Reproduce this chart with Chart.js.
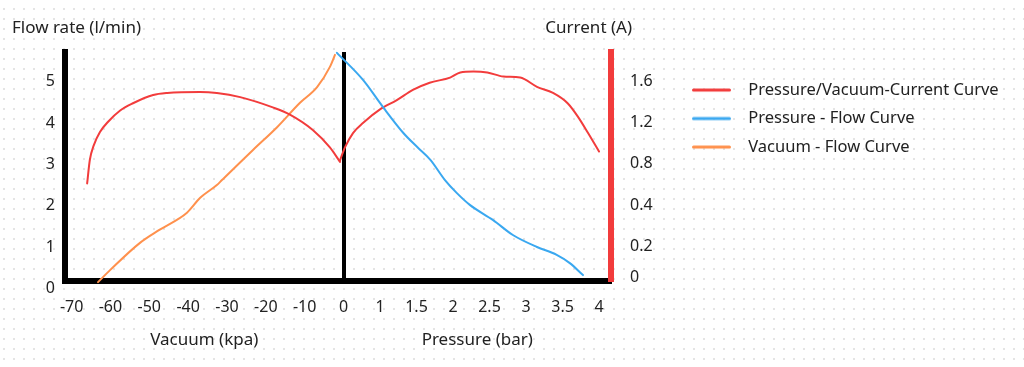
<!DOCTYPE html>
<html>
<head>
<meta charset="utf-8">
<script src="https://cdn.jsdelivr.net/npm/chart.js@4.4.0/dist/chart.umd.min.js"></script>
<style>
html,body{margin:0;padding:0;background:#fff;}
canvas{display:block;}
</style>
</head>
<body>
<canvas id="c" width="1024" height="367"></canvas>
<script>
// ---- tick labels ----
const VAC_TICKS = [-70, -60, -50, -40, -30, -20, -10, 0];
const PRES_TICKS = [1, 1.5, 2, 2.5, 3, 3.5, 4];
const FLOW_TICKS = [0, 1, 2, 3, 4, 5];
const CURRENT_TICK_VALUES = [-0.31, 0, 0.4, 0.8, 1.2, 1.6];
const CURRENT_TICK_LABELS = ['0', '0.2', '0.4', '0.8', '1.2', '1.6'];
const SERIES_LABELS = ['Pressure/Vacuum-Current Curve', 'Pressure - Flow Curve', 'Vacuum - Flow Curve'];

// ---- series: current vs vacuum (kPa -> A) ----
const VAC_CURRENT_X = [-66.0, -65.3, -64.3, -62.7, -60.6, -57.5, -54.2, -49.0, -45.4, -36.9, -32.6, -26.6, -18.2, -13.8, -7.9, -3.5, -0.9];
const VAC_CURRENT_Y = [0.61, 0.84, 0.98, 1.11, 1.21, 1.32, 1.39, 1.47, 1.49, 1.50, 1.49, 1.45, 1.35, 1.28, 1.13, 0.96, 0.82];

// ---- series: current vs pressure (bar -> A) ----
const PRES_CURRENT_X = [0.45, 0.52, 0.63, 0.77, 1.00, 1.23, 1.45, 1.68, 1.96, 2.10, 2.28, 2.47, 2.69, 2.92, 3.15, 3.37, 3.57, 3.71, 3.85, 4.00];
const PRES_CURRENT_Y = [0.83, 0.96, 1.10, 1.20, 1.33, 1.42, 1.52, 1.59, 1.64, 1.69, 1.70, 1.69, 1.65, 1.64, 1.55, 1.49, 1.39, 1.26, 1.10, 0.92];

// ---- series: flow vs pressure (bar -> l/min) ----
const PRES_FLOW_X = [0.41, 0.77, 1.04, 1.32, 1.51, 1.69, 1.89, 2.05, 2.23, 2.55, 2.82, 3.15, 3.42, 3.60, 3.78];
const PRES_FLOW_Y = [5.70, 5.04, 4.39, 3.76, 3.42, 3.11, 2.62, 2.31, 2.02, 1.65, 1.29, 1.00, 0.81, 0.61, 0.32];

// ---- series: flow vs vacuum (kPa -> l/min) ----
const VAC_FLOW_X = [-63.2, -60.1, -52.4, -47.3, -40.3, -36.9, -32.6, -31.3, -23.3, -17.1, -11.2, -6.8, -3.5, -2.2];
const VAC_FLOW_Y = [0.15, 0.44, 1.10, 1.42, 1.83, 2.19, 2.50, 2.62, 3.35, 3.90, 4.49, 4.87, 5.36, 5.65];

const RED = '#f23c3c', BLUE = '#3aa8f0', ORANGE = '#ff914d', TEXT = '#222';
const FONT = '"Noto Sans", "DejaVu Sans", sans-serif';

function pts(xs, ys) { return xs.map((x, i) => ({ x: x, y: ys[i] })); }
function swatch(color) {
  const c = document.createElement('canvas');
  c.width = 48; c.height = 6;
  const g = c.getContext('2d');
  g.strokeStyle = color; g.lineWidth = 3; g.lineCap = 'round';
  g.beginPath(); g.moveTo(1.5, 3); g.lineTo(37.5, 3); g.stroke();
  return c;
}
function lineDs(label, xs, ys, color, xId, yId) {
  return {
    label: label, data: pts(xs, ys), xAxisID: xId, yAxisID: yId,
    borderColor: color, backgroundColor: color, borderWidth: 2,
    pointRadius: 0, pointHoverRadius: 0, pointStyle: swatch(color),
    cubicInterpolationMode: 'monotone', fill: false, clip: false,
    borderCapStyle: 'round', borderJoinStyle: 'round'
  };
}

Chart.defaults.font.family = FONT;
Chart.defaults.font.size = 16;
Chart.defaults.color = TEXT;

const bgDots = {
  id: 'bgDots',
  beforeDraw(chart) {
    const ctx = chart.ctx;
    ctx.save();
    ctx.fillStyle = '#ffffff';
    ctx.fillRect(0, 0, chart.width, chart.height);
    ctx.fillStyle = '#e4e4e4';
    for (let x = 3; x < chart.width; x += 10) {
      for (let y = 8; y < chart.height; y += 10) ctx.fillRect(x, y, 2, 2);
    }
    ctx.restore();
  }
};

const topTitles = {
  id: 'topTitles',
  afterDraw(chart) {
    const ctx = chart.ctx, yl = chart.scales.yFlow, yr = chart.scales.yCur;
    ctx.save();
    ctx.font = '17px ' + FONT;
    ctx.fillStyle = TEXT;
    ctx.textBaseline = 'middle';
    ctx.textAlign = 'left';
    ctx.fillText('Flow rate (l/min)', yl.left + 12, 28);
    ctx.textAlign = 'right';
    ctx.fillText('Current (A)', yr.left + 21, 28);
    ctx.restore();
  }
};

const legendWidth = {
  id: 'legendWidth',
  beforeLayout(chart) {
    const lg = chart.legend;
    if (lg && !lg._fixedW) {
      const orig = lg.fit.bind(lg);
      lg.fit = function () { orig(); this.width = 344; };
      lg._fixedW = true;
    }
  }
};

const noGrid = { display: false, drawTicks: false };

new Chart(document.getElementById('c'), {
  type: 'line',
  data: {
    datasets: [
      lineDs(SERIES_LABELS[0], VAC_CURRENT_X, VAC_CURRENT_Y, RED, 'xVac', 'yCur'),
      lineDs(SERIES_LABELS[1], PRES_FLOW_X, PRES_FLOW_Y, BLUE, 'xPres', 'yFlow'),
      lineDs(SERIES_LABELS[2], VAC_FLOW_X, VAC_FLOW_Y, ORANGE, 'xVac', 'yFlow'),
      lineDs(SERIES_LABELS[0], PRES_CURRENT_X, PRES_CURRENT_Y, RED, 'xPres', 'yCur')
    ]
  },
  options: {
    responsive: false,
    devicePixelRatio: 1,
    animation: false,
    events: [],
    layout: { padding: { top: 52, left: 0, right: 0, bottom: 0 } },
    plugins: {
      tooltip: { enabled: false },
      legend: {
        position: 'right',
        align: 'start',
        title: { display: true, text: '', padding: 0, font: { size: 14.8 } },
        labels: {
          usePointStyle: true, pointStyleWidth: 48, padding: 12, color: TEXT,
          font: { size: 16.5 },
          filter: (item) => item.datasetIndex !== 3
        }
      }
    },
    scales: {
      xVac: {
        type: 'linear', axis: 'x', position: 'bottom', stack: 'xs', stackWeight: 278.5,
        min: -71.7, max: 0,
        afterBuildTicks: (s) => { s.ticks = VAC_TICKS.map(v => ({ value: v })); },
        afterFit: (s) => { s.height = 86; },
        ticks: { padding: 17, autoSkip: false, maxRotation: 0, color: TEXT, font: { size: 16 }, callback: (v) => String(v) },
        grid: {
          display: true, drawTicks: false, lineWidth: 4,
          color: (c) => (c.tick && c.tick.value === 0) ? '#000' : 'rgba(0,0,0,0)'
        },
        border: { display: true, color: '#000', width: 6 },
        title: { display: true, text: 'Vacuum (kpa)', color: TEXT, font: { size: 17 }, padding: { top: 0, bottom: 17 } }
      },
      xPres: {
        type: 'linear', axis: 'x', position: 'bottom', stack: 'xs', stackWeight: 267.5,
        min: 0.5, max: 4.164,
        afterBuildTicks: (s) => { s.ticks = PRES_TICKS.map(v => ({ value: v })); },
        afterFit: (s) => { s.height = 86; },
        ticks: { padding: 17, autoSkip: false, maxRotation: 0, color: TEXT, font: { size: 16 }, callback: (v) => String(v) },
        grid: noGrid,
        border: { display: true, color: '#000', width: 6 },
        title: { display: true, text: 'Pressure (bar)', color: TEXT, font: { size: 17 }, padding: { top: 0, bottom: 17 } }
      },
      yFlow: {
        type: 'linear', position: 'left', min: 0.177, max: 5.72,
        afterBuildTicks: (s) => { s.ticks = FLOW_TICKS.map(v => ({ value: v })); },
        afterFit: (s) => { s.width = 65; },
        ticks: { padding: 10, autoSkip: false, color: TEXT, font: { size: 16 }, callback: (v) => String(v) },
        grid: noGrid,
        border: { display: true, color: '#000', width: 6 }
      },
      yCur: {
        type: 'linear', position: 'right', min: -0.34, max: 1.889,
        afterBuildTicks: (s) => { s.ticks = CURRENT_TICK_VALUES.map(v => ({ value: v })); },
        afterFit: (s) => { s.width = 69; },
        ticks: { padding: 19, autoSkip: false, color: TEXT, font: { size: 16 }, callback: (v, i) => CURRENT_TICK_LABELS[i] },
        grid: noGrid,
        border: { display: true, color: RED, width: 6 }
      }
    }
  },
  plugins: [bgDots, topTitles, legendWidth]
});
</script>
</body>
</html>
